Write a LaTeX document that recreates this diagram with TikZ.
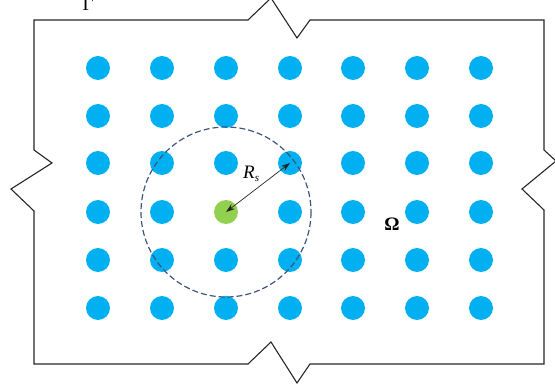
\documentclass[tikz,border=0pt]{standalone}
\usepackage{fontspec}
\setmainfont{Liberation Serif}
\usetikzlibrary{arrows.meta}
\definecolor{dotblue}{RGB}{0,176,240}
\definecolor{dotgreen}{RGB}{146,208,80}
\definecolor{edge}{RGB}{38,38,38}
\definecolor{dashc}{RGB}{64,84,128}
\begin{document}
\begin{tikzpicture}[x=1pt,y=-1pt,
  dot/.style={circle,fill=dotblue,draw=none,minimum size=24pt,inner sep=0pt},
  gdot/.style={circle,fill=dotgreen,draw=none,minimum size=24pt,inner sep=0pt},
  boundary/.style={draw=edge,line width=1.1pt,line join=miter},
  lbl/.style={font=\fontsize{19}{19}\selectfont,inner sep=0pt}]
\useasboundingbox (0,0) rectangle (555,390);
% boundary
\draw[boundary] (34,20) -- (248,20) -- (271,-2) -- (297,38) -- (310,20) -- (544,20)
  -- (544,150) -- (556,161) -- (522,189) -- (544,210) -- (544,364)
  -- (310,364) -- (297,383) -- (271,342) -- (248,364) -- (34,364)
  -- (34,211) -- (11,189) -- (52,163) -- (34,150) -- cycle;
% dots
\foreach \c [count=\i] in {98,162,226,290,353,417,481}{
  \foreach \r [count=\j] in {68,116,163,212,260,308}{
    \ifnum\i=3 \ifnum\j=4 \else \node[dot] (d\i\j) at (\c,\r) {}; \fi
    \else \node[dot] (d\i\j) at (\c,\r) {}; \fi
  }
}
\node[gdot] (d34) at (226,212) {};
% dashed circle
\draw[dashc,line width=1.2pt,dash pattern=on 6pt off 3pt] (d34.center) circle (85);
% arrow
\draw[{Stealth[length=9pt,width=6pt]}-{Stealth[length=9pt,width=6pt]},draw=edge,line width=0.7pt]
  (d34.center) -- (d43.center);
% labels
\node[lbl,anchor=base west] (rs) at (243,179) {\textit{R}\raisebox{-3pt}{\fontsize{11}{11}\selectfont\textit{s}}};
\node[lbl,anchor=base] (om) at (392,231) {\textbf{Ω}};
\node[lbl,anchor=base] (ga) at (88,11) {Γ};
\end{tikzpicture}
\end{document}
